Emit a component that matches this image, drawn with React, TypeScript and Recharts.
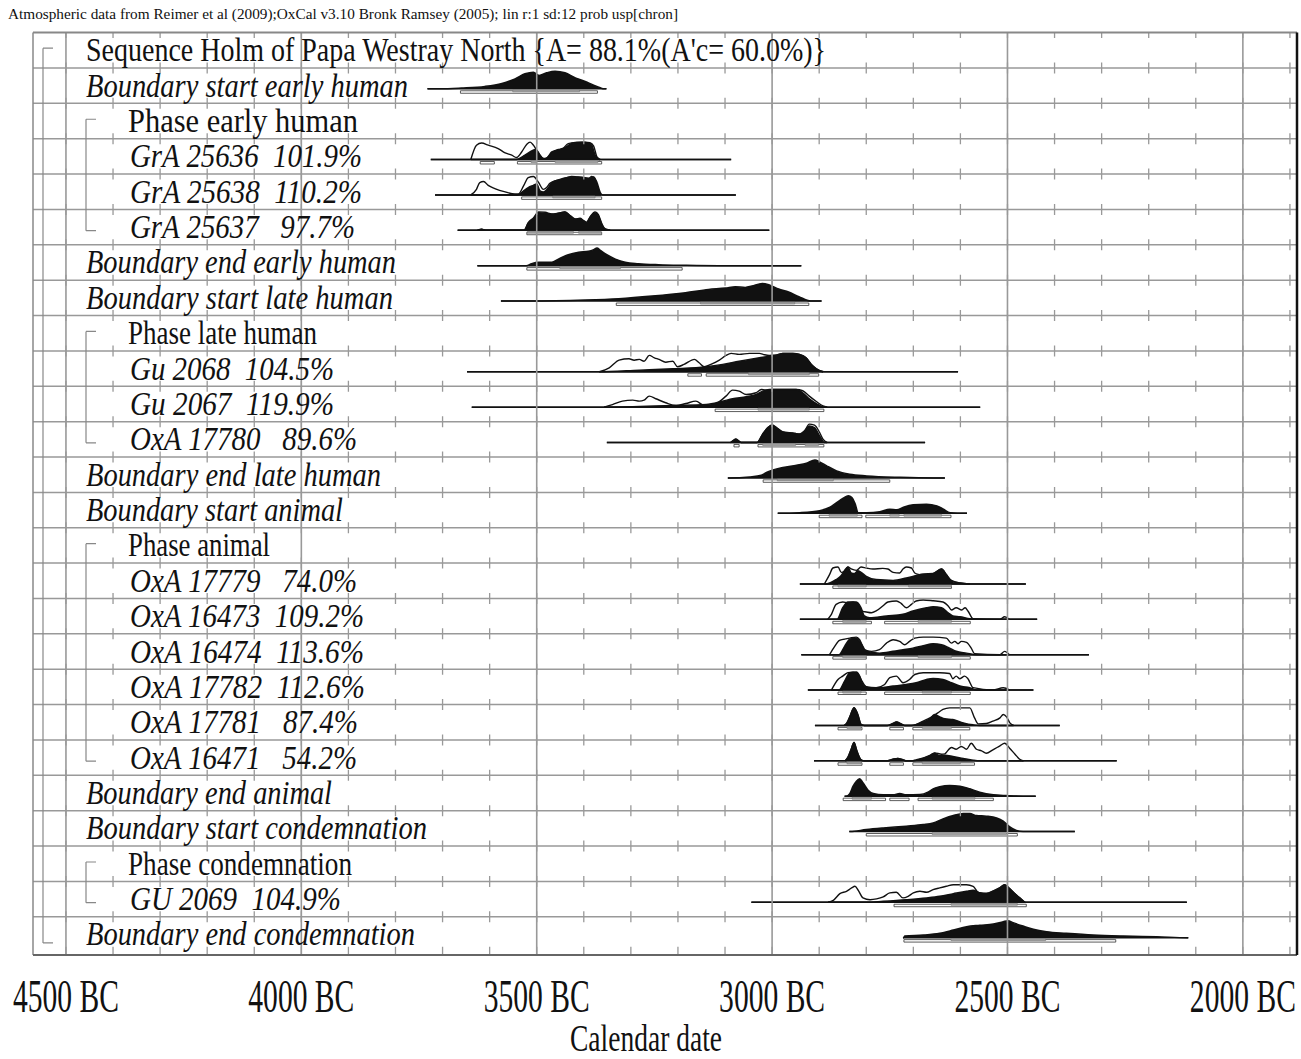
import React from 'react';
import { ComposedChart, Area, XAxis, YAxis, ReferenceLine, ReferenceArea } from 'recharts';

type Pt = [number, number];
type Range = [number, number];

// ---- row labels ----
const rowLabels = [
  "Sequence Holm of Papa Westray North {A= 88.1%(A'c= 60.0%)}",
  'Boundary start early human',
  'Phase early human',
  'GrA 25636  101.9%',
  'GrA 25638  110.2%',
  'GrA 25637   97.7%',
  'Boundary end early human',
  'Boundary start late human',
  'Phase late human',
  'Gu 2068  104.5%',
  'Gu 2067  119.9%',
  'OxA 17780   89.6%',
  'Boundary end late human',
  'Boundary start animal',
  'Phase animal',
  'OxA 17779   74.0%',
  'OxA 16473  109.2%',
  'OxA 16474  113.6%',
  'OxA 17782  112.6%',
  'OxA 17781   87.4%',
  'OxA 16471   54.2%',
  'Boundary end animal',
  'Boundary start condemnation',
  'Phase condemnation',
  'GU 2069  104.9%',
  'Boundary end condemnation',
];
const rowKinds = [
  'sequence', 'boundary', 'phase', 'date', 'date', 'date', 'boundary', 'boundary', 'phase',
  'date', 'date', 'date', 'boundary', 'boundary', 'phase', 'date', 'date', 'date', 'date',
  'date', 'date', 'boundary', 'boundary', 'phase', 'date', 'boundary',
];
const sequenceSpan: Range = [0, 25];
const phaseSpans: Range[] = [[2, 5], [8, 11], [14, 20], [23, 24]];

// axis ticks (years BC)
const majorYears = [4500, 4000, 3500, 3000, 2500, 2000];
const minorYears = [
  4500, 4400, 4300, 4200, 4100, 4000, 3900, 3800, 3700, 3600, 3500, 3400, 3300, 3200,
  3100, 3000, 2900, 2800, 2700, 2600, 2500, 2400, 2300, 2200, 2100, 2000, 1900,
];

// ---- distributions: [year BC, relative density] ----
const bStartEarlySpan: Range = [3732, 3352];
const bStartEarlyPost: Pt[] = [[3705,0],[3660,4],[3610,12],[3574,27],[3546,50],[3525,75],[3507,83],[3495,67],[3479,80],[3461,88],[3440,80],[3418,55],[3397,37],[3379,18],[3365,5],[3357,0]];
const bStartEarly68: Range[] = [[3551, 3409]];
const bStartEarly95: Range[] = [[3662, 3371]];

const gra25636Span: Range = [3725, 3087];
const gra25636Prior: Pt[] = [[3640,0],[3628,72],[3617,83],[3603,72],[3582,55],[3567,33],[3553,22],[3543,10],[3532,38],[3521,77],[3514,87],[3507,72],[3500,47],[3489,10],[3482,3],[3472,22],[3461,43],[3447,50],[3433,80],[3418,86],[3397,87],[3387,84],[3379,67],[3372,13],[3365,0]];
const gra25636Post: Pt[] = [[3545,0],[3525,22],[3511,43],[3502,50],[3493,22],[3486,5],[3479,8],[3468,38],[3454,50],[3440,60],[3426,80],[3404,86],[3390,83],[3383,72],[3376,22],[3367,0]];
const gra2563668: Range[] = [[3512, 3500], [3461, 3370]];
const gra2563695: Range[] = [[3620, 3590], [3541, 3362]];

const gra25638Span: Range = [3716, 3077];
const gra25638Prior: Pt[] = [[3640,0],[3628,28],[3621,62],[3613,67],[3603,48],[3589,32],[3567,15],[3546,5],[3539,5],[3528,45],[3518,87],[3507,92],[3496,62],[3486,28],[3479,37],[3472,58],[3461,70],[3447,78],[3426,92],[3404,87],[3390,82],[3383,92],[3376,78],[3369,20],[3363,0]];
const gra25638Post: Pt[] = [[3541,0],[3528,20],[3518,37],[3507,48],[3500,55],[3493,20],[3486,15],[3475,37],[3468,62],[3454,75],[3433,87],[3411,90],[3394,85],[3387,82],[3379,90],[3372,62],[3365,12],[3360,0]];
const gra2563868: Range[] = [[3466, 3376]];
const gra2563895: Range[] = [[3532, 3362]];

const gra25637Span: Range = [3668, 3006];
const gra25637Prior: Pt[] = [[3626,0],[3617,5],[3608,0],[3527,0],[3518,38],[3507,62],[3496,92],[3482,90],[3468,82],[3454,86],[3440,92],[3429,74],[3418,57],[3408,60],[3401,50],[3394,40],[3387,66],[3376,92],[3369,78],[3362,35],[3355,8],[3344,0]];
const gra25637Post: Pt[] = [[3626,0],[3617,5],[3608,0],[3527,0],[3518,35],[3507,58],[3496,88],[3482,85],[3468,80],[3454,85],[3440,92],[3429,72],[3418,55],[3408,58],[3401,47],[3394,38],[3387,63],[3376,88],[3369,72],[3362,30],[3355,5],[3348,0]];
const gra2563768: Range[] = [[3520, 3422], [3411, 3363]];
const gra2563795: Range[] = [[3521, 3362]];

const bEndEarlySpan: Range = [3626, 2938];
const bEndEarlyPost: Pt[] = [[3522,0],[3511,10],[3496,17],[3468,17],[3454,33],[3433,55],[3411,67],[3390,72],[3379,80],[3372,88],[3365,77],[3351,55],[3333,33],[3312,17],[3284,10],[3241,5],[3184,2],[3113,0]];
const bEndEarly68: Range[] = [[3451, 3322]];
const bEndEarly95: Range[] = [[3521, 3191]];

const bStartLateSpan: Range = [3576, 2895];
const bStartLatePost: Pt[] = [[3518,0],[3397,5],[3326,12],[3255,25],[3184,42],[3135,58],[3099,65],[3078,72],[3057,68],[3043,75],[3021,88],[3007,82],[2986,60],[2965,45],[2943,22],[2918,0]];
const bStartLate68: Range[] = [[3152, 2952]];
const bStartLate95: Range[] = [[3331, 2922]];

const gu2068Span: Range = [3648, 2605];
const gu2068Prior: Pt[] = [[3367,0],[3346,20],[3325,58],[3304,65],[3293,58],[3282,62],[3272,53],[3261,82],[3250,70],[3240,62],[3226,48],[3211,53],[3201,25],[3187,37],[3165,62],[3155,45],[3144,25],[3130,37],[3112,58],[3098,82],[3087,92],[3070,87],[3048,92],[3027,92],[3016,85],[3006,82],[2991,84],[2977,92],[2956,92],[2942,87],[2928,70],[2917,37],[2906,15],[2892,0]];
const gu2068Post: Pt[] = [[3370,0],[3282,8],[3211,15],[3140,25],[3105,37],[3070,53],[3048,62],[3027,70],[3006,78],[2991,82],[2977,92],[2956,92],[2942,87],[2928,70],[2917,37],[2906,15],[2890,0]];
const gu206868: Range[] = [[3050, 2921]];
const gu206895: Range[] = [[3179, 3150], [3140, 2901]];

const gu2067Span: Range = [3638, 2558];
const gu2067Prior: Pt[] = [[3357,0],[3339,13],[3318,30],[3296,35],[3282,30],[3272,35],[3261,55],[3247,42],[3226,22],[3204,8],[3183,18],[3162,30],[3144,8],[3119,18],[3098,55],[3084,85],[3070,80],[3055,63],[3034,72],[3023,88],[3009,85],[2999,88],[2977,88],[2949,88],[2935,82],[2921,55],[2906,28],[2892,6],[2883,0]];
const gu2067Post: Pt[] = [[3353,0],[3211,8],[3140,13],[3105,30],[3084,42],[3055,52],[3034,63],[3020,80],[3006,88],[2949,88],[2935,72],[2921,42],[2906,18],[2890,0]];
const gu206768: Range[] = [[3030, 2921]];
const gu206795: Range[] = [[3121, 2890]];

const oxa17780Span: Range = [3351, 2675];
const oxa17780Prior: Pt[] = [[3088,0],[3077,17],[3066,0],[3032,0],[3020,42],[3009,75],[3000,88],[2991,75],[2977,53],[2956,47],[2942,42],[2931,58],[2921,92],[2910,87],[2899,50],[2892,17],[2883,0]];
const oxa17780Post: Pt[] = [[3088,0],[3077,17],[3066,0],[3032,0],[3020,42],[3009,75],[3000,88],[2991,75],[2977,53],[2956,47],[2942,42],[2931,58],[2921,83],[2910,75],[2899,33],[2889,0]];
const oxa1778068: Range[] = [[3020, 2950], [2930, 2901]];
const oxa1778095: Range[] = [[3081, 3070], [3030, 2890]];

const bEndLateSpan: Range = [3094, 2633];
const bEndLatePost: Pt[] = [[3090,0],[3048,5],[3023,13],[3012,27],[2998,40],[2977,52],[2948,63],[2927,73],[2909,90],[2899,80],[2884,60],[2863,35],[2835,18],[2799,10],[2728,3],[2657,0]];
const bEndLate68: Range[] = [[2989, 2870]];
const bEndLate95: Range[] = [[3019, 2750]];

const bStartAnimalSpan: Range = [2988, 2586];
const bStartAnimalPost: Pt[] = [[2985,0],[2941,3],[2899,13],[2877,30],[2863,53],[2849,75],[2838,87],[2831,80],[2824,50],[2817,3],[2799,3],[2771,8],[2750,20],[2735,17],[2721,30],[2700,42],[2672,45],[2650,37],[2636,20],[2622,3],[2590,0]];
const bStartAnimal68: Range[] = [[2879, 2819], [2750, 2730], [2720, 2640]];
const bStartAnimal95: Range[] = [[2900, 2809], [2801, 2620]];

const oxa17779Span: Range = [2941, 2461];
const oxa17779Prior: Pt[] = [[2889,0],[2878,47],[2871,80],[2860,85],[2853,58],[2846,63],[2839,85],[2832,75],[2821,68],[2811,85],[2800,80],[2786,75],[2765,78],[2754,75],[2743,58],[2729,55],[2722,75],[2715,85],[2704,80],[2697,55],[2687,47],[2672,42],[2658,52],[2640,75],[2630,47],[2619,18],[2601,5],[2580,0]];
const oxa17779Post: Pt[] = [[2885,0],[2864,22],[2853,42],[2846,68],[2839,85],[2832,55],[2825,52],[2818,66],[2811,58],[2800,38],[2779,22],[2743,18],[2715,30],[2694,42],[2679,50],[2658,52],[2640,75],[2630,47],[2619,13],[2601,5],[2578,0]];
const oxa1777968: Range[] = [[2860, 2800], [2710, 2619]];
const oxa1777995: Range[] = [[2871, 2619]];

const oxa16473Span: Range = [2941, 2437];
const oxa16473Prior: Pt[] = [[2882,0],[2874,25],[2864,75],[2850,87],[2839,83],[2828,87],[2818,75],[2811,42],[2800,37],[2789,33],[2779,42],[2765,67],[2754,87],[2736,92],[2726,80],[2715,58],[2704,75],[2694,92],[2679,97],[2658,93],[2637,87],[2626,67],[2619,47],[2609,58],[2597,47],[2590,58],[2584,42],[2573,3],[2516,0],[2506,13],[2496,0]];
const oxa16473Post: Pt[] = [[2862,0],[2850,58],[2839,87],[2821,87],[2811,58],[2804,17],[2793,8],[2757,17],[2722,25],[2701,42],[2672,58],[2658,63],[2640,58],[2626,33],[2616,17],[2601,13],[2580,3],[2566,0]];
const oxa1647368: Range[] = [[2850, 2800], [2690, 2619]];
const oxa1647395: Range[] = [[2871, 2789], [2761, 2579]];

const oxa16474Span: Range = [2938, 2327];
const oxa16474Prior: Pt[] = [[2878,0],[2867,42],[2857,72],[2846,78],[2835,83],[2821,88],[2814,75],[2804,25],[2789,17],[2772,25],[2757,58],[2743,75],[2729,67],[2718,50],[2708,67],[2697,83],[2679,88],[2658,88],[2630,83],[2619,58],[2612,67],[2605,55],[2598,67],[2587,62],[2577,33],[2570,5],[2516,0],[2506,17],[2496,0]];
const oxa16474Post: Pt[] = [[2858,0],[2846,42],[2835,78],[2821,83],[2811,58],[2800,17],[2772,8],[2743,17],[2722,25],[2701,33],[2679,45],[2658,55],[2640,50],[2623,33],[2609,17],[2587,8],[2566,0]];
const oxa1647468: Range[] = [[2850, 2800], [2690, 2619]];
const oxa1647495: Range[] = [[2871, 2800], [2761, 2579]];

const oxa17782Span: Range = [2924, 2445];
const oxa17782Prior: Pt[] = [[2874,0],[2860,53],[2850,70],[2839,87],[2828,90],[2818,83],[2811,53],[2800,17],[2779,12],[2761,28],[2750,62],[2736,70],[2722,37],[2708,53],[2697,78],[2679,87],[2644,87],[2623,83],[2616,57],[2609,70],[2601,57],[2591,70],[2584,57],[2573,12],[2531,0],[2509,12],[2495,0]];
const oxa17782Post: Pt[] = [[2858,0],[2846,45],[2835,87],[2821,90],[2814,70],[2807,28],[2796,12],[2772,12],[2743,20],[2715,28],[2694,37],[2672,53],[2658,58],[2637,53],[2619,37],[2601,20],[2580,12],[2566,0]];
const oxa1778268: Range[] = [[2850, 2811], [2681, 2619]];
const oxa1778295: Range[] = [[2860, 2800], [2761, 2579]];

const oxa17781Span: Range = [2909, 2389];
const oxa17781Prior: Pt[] = [[2847,0],[2841,13],[2835,43],[2826,88],[2818,55],[2811,5],[2804,0],[2755,0],[2743,10],[2736,17],[2726,8],[2718,0],[2704,0],[2679,22],[2669,33],[2658,47],[2648,63],[2637,80],[2623,88],[2601,88],[2580,88],[2570,38],[2562,8],[2545,10],[2531,22],[2516,38],[2509,55],[2502,43],[2495,13],[2487,0]];
const oxa17781Post: Pt[] = [[2847,0],[2841,13],[2835,43],[2826,88],[2818,55],[2811,5],[2804,0],[2755,0],[2743,10],[2736,17],[2726,8],[2718,0],[2704,0],[2679,17],[2665,33],[2655,55],[2644,43],[2633,33],[2616,30],[2594,13],[2573,3],[2559,0]];
const oxa1778168: Range[] = [[2841, 2811], [2681, 2619]];
const oxa1778195: Range[] = [[2860, 2809], [2750, 2721], [2701, 2580]];

const oxa16471Span: Range = [2911, 2268];
const oxa16471Prior: Pt[] = [[2845,0],[2839,17],[2832,58],[2826,92],[2820,50],[2811,5],[2804,0],[2755,0],[2743,8],[2733,12],[2722,5],[2715,0],[2704,0],[2694,5],[2665,27],[2655,40],[2640,33],[2633,35],[2630,42],[2619,67],[2609,58],[2598,72],[2587,58],[2577,88],[2566,58],[2555,50],[2545,38],[2531,55],[2516,75],[2506,88],[2495,62],[2484,33],[2474,8],[2466,0]];
const oxa16471Post: Pt[] = [[2845,0],[2839,17],[2832,58],[2826,92],[2820,50],[2811,5],[2804,0],[2755,0],[2743,8],[2733,12],[2722,5],[2715,0],[2704,0],[2679,12],[2665,25],[2655,38],[2644,25],[2633,28],[2616,22],[2594,12],[2573,3],[2559,0]];
const oxa1647168: Range[] = [[2841, 2811], [2681, 2600]];
const oxa1647195: Range[] = [[2860, 2809], [2750, 2721], [2701, 2570]];

const bEndAnimalSpan: Range = [2846, 2440];
const bEndAnimalPost: Pt[] = [[2843,0],[2835,13],[2828,50],[2821,75],[2814,87],[2807,67],[2796,30],[2785,13],[2764,7],[2743,7],[2729,13],[2715,7],[2686,8],[2669,20],[2658,37],[2644,47],[2623,53],[2601,50],[2580,37],[2559,20],[2530,7],[2502,3],[2467,0]];
const bEndAnimal68: Range[] = [[2830, 2789], [2660, 2569]];
const bEndAnimal95: Range[] = [[2849, 2759], [2750, 2709], [2690, 2530]];

const bStartCondSpan: Range = [2836, 2357];
const bStartCondPost: Pt[] = [[2834,0],[2800,10],[2764,18],[2715,27],[2679,35],[2658,43],[2637,63],[2615,80],[2594,90],[2580,90],[2566,80],[2545,77],[2523,68],[2509,52],[2495,23],[2481,5],[2467,0]];
const bStartCond68: Range[] = [[2660, 2502]];
const bStartCond95: Range[] = [[2800, 2479]];

const gu2069Span: Range = [3044, 2119];
const gu2069Prior: Pt[] = [[2881,0],[2870,10],[2856,43],[2842,55],[2831,72],[2824,80],[2817,60],[2807,22],[2792,13],[2778,17],[2764,27],[2750,47],[2736,50],[2722,22],[2711,30],[2700,47],[2686,55],[2672,50],[2658,63],[2644,72],[2630,80],[2615,88],[2587,88],[2573,80],[2562,50],[2559,48],[2545,45],[2530,57],[2516,73],[2506,88],[2495,67],[2484,43],[2474,22],[2463,0]];
const gu2069Post: Pt[] = [[2800,0],[2764,5],[2715,13],[2672,22],[2644,30],[2615,43],[2587,55],[2573,60],[2559,47],[2545,43],[2530,55],[2516,72],[2506,88],[2495,67],[2484,43],[2474,22],[2461,0]];
const gu206968: Range[] = [[2620, 2479]];
const gu206995: Range[] = [[2741, 2460]];

const bEndCondSpan: Range = [2722, 2116];
const bEndCondPost: Pt[] = [[2721,0],[2718,8],[2679,13],[2644,22],[2615,38],[2587,55],[2559,62],[2530,68],[2509,80],[2499,85],[2488,75],[2467,58],[2445,42],[2417,30],[2375,22],[2318,13],[2254,8],[2183,5],[2118,0]];
const bEndCond68: Range[] = [[2620, 2419]];
const bEndCond95: Range[] = [[2720, 2270]];

interface Dist { row: number; span: Range; post: Pt[]; prior?: Pt[]; r68: Range[]; r95: Range[] }
const dists: Dist[] = [
  { row: 1, span: bStartEarlySpan, post: bStartEarlyPost, r68: bStartEarly68, r95: bStartEarly95 },
  { row: 3, span: gra25636Span, post: gra25636Post, prior: gra25636Prior, r68: gra2563668, r95: gra2563695 },
  { row: 4, span: gra25638Span, post: gra25638Post, prior: gra25638Prior, r68: gra2563868, r95: gra2563895 },
  { row: 5, span: gra25637Span, post: gra25637Post, prior: gra25637Prior, r68: gra2563768, r95: gra2563795 },
  { row: 6, span: bEndEarlySpan, post: bEndEarlyPost, r68: bEndEarly68, r95: bEndEarly95 },
  { row: 7, span: bStartLateSpan, post: bStartLatePost, r68: bStartLate68, r95: bStartLate95 },
  { row: 9, span: gu2068Span, post: gu2068Post, prior: gu2068Prior, r68: gu206868, r95: gu206895 },
  { row: 10, span: gu2067Span, post: gu2067Post, prior: gu2067Prior, r68: gu206768, r95: gu206795 },
  { row: 11, span: oxa17780Span, post: oxa17780Post, prior: oxa17780Prior, r68: oxa1778068, r95: oxa1778095 },
  { row: 12, span: bEndLateSpan, post: bEndLatePost, r68: bEndLate68, r95: bEndLate95 },
  { row: 13, span: bStartAnimalSpan, post: bStartAnimalPost, r68: bStartAnimal68, r95: bStartAnimal95 },
  { row: 15, span: oxa17779Span, post: oxa17779Post, prior: oxa17779Prior, r68: oxa1777968, r95: oxa1777995 },
  { row: 16, span: oxa16473Span, post: oxa16473Post, prior: oxa16473Prior, r68: oxa1647368, r95: oxa1647395 },
  { row: 17, span: oxa16474Span, post: oxa16474Post, prior: oxa16474Prior, r68: oxa1647468, r95: oxa1647495 },
  { row: 18, span: oxa17782Span, post: oxa17782Post, prior: oxa17782Prior, r68: oxa1778268, r95: oxa1778295 },
  { row: 19, span: oxa17781Span, post: oxa17781Post, prior: oxa17781Prior, r68: oxa1778168, r95: oxa1778195 },
  { row: 20, span: oxa16471Span, post: oxa16471Post, prior: oxa16471Prior, r68: oxa1647168, r95: oxa1647195 },
  { row: 21, span: bEndAnimalSpan, post: bEndAnimalPost, r68: bEndAnimal68, r95: bEndAnimal95 },
  { row: 22, span: bStartCondSpan, post: bStartCondPost, r68: bStartCond68, r95: bStartCond95 },
  { row: 24, span: gu2069Span, post: gu2069Post, prior: gu2069Prior, r68: gu206968, r95: gu206995 },
  { row: 25, span: bEndCondSpan, post: bEndCondPost, r68: bEndCond68, r95: bEndCond95 },
];

// ---- layout ----
const W = 1301;
const H = 1059;
const PLOT_LEFT = 33;
const PLOT_RIGHT = 1297;
const PLOT_TOP = 32.6;
const PLOT_BOTTOM = 955;
const Y_SPAN = 26.08;
const ROW_PX = (PLOT_BOTTOM - PLOT_TOP) / Y_SPAN;
const X_MIN = -4570;
const X_MAX = -1885;
const BASE_OFF = 0.59;
const DENS = 20 / ROW_PX / 100; // density 100 -> 20px
const GRID = '#999';
const FONT = '"Liberation Serif", "Times New Roman", serif';

const labelWidths = [740, 322, 230, 232, 232, 225, 310, 307, 189, 204, 204, 227, 295, 257, 142, 227, 234, 234, 235, 228, 227, 246, 341, 224, 211, 329];
const labelIndent: Record<string, number> = { sequence: 53, boundary: 53, phase: 95, date: 97 };

const rowTicks = rowLabels.map((_, i) => i + 0.5);

const toArea = (pts: Pt[], base: number, span?: Range) => {
  const list: Pt[] = span ? [[span[0], 0], ...pts, [span[1], 0]] : pts;
  return list.map(([bc, v]) => ({ t: -bc, v: [base, base - v * DENS] }));
};

const bracket = (r: number, span: Range, x: number, top: number, startOff: number, endOff: number, key: string) => {
  if (r < span[0] || r > span[1]) return null;
  const y1 = r === span[0] ? top + startOff * ROW_PX : top;
  const y2 = r === span[1] ? top + endOff * ROW_PX : top + ROW_PX;
  let d = `M${x},${y1}L${x},${y2}`;
  if (r === span[0]) d += `M${x},${y1}L${x + 10},${y1}`;
  if (r === span[1]) d += `M${x},${y2}L${x + 10},${y2}`;
  return <path key={key} d={d} stroke="#888" strokeWidth={1.2} fill="none" />;
};

const RowTick = (props: any) => {
  const { y, payload } = props;
  const r = Math.floor(payload.value);
  const kind = rowKinds[r];
  const top = y - ROW_PX / 2;
  const italic = kind === 'boundary' || kind === 'date';
  const phase = phaseSpans.find((s) => r >= s[0] && r <= s[1]);
  return (
    <g>
      {bracket(r, sequenceSpan, PLOT_LEFT + 10, top, 0.44, 0.74, 's')}
      {phase && bracket(r, phase, PLOT_LEFT + 53, top, 0.45, 0.6, 'p')}
      <text
        x={PLOT_LEFT + labelIndent[kind]}
        y={top + ROW_PX * 0.81}
        fontFamily={FONT}
        fontSize={34}
        fontStyle={italic ? 'italic' : 'normal'}
        fill="#111"
        textLength={labelWidths[r]}
        lengthAdjust="spacingAndGlyphs"
        style={{ whiteSpace: 'pre' }}
      >
        {rowLabels[r]}
      </text>
    </g>
  );
};

const YearTick = (props: any) => {
  const { x, y, payload } = props;
  return (
    <text x={x} y={y + 57} textAnchor="middle" fontFamily={FONT} fontSize={46} fill="#111"
      textLength={106} lengthAdjust="spacingAndGlyphs">
      {`${-payload.value} BC`}
    </text>
  );
};

const AxisTitle = (props: any) => {
  const vb = props.viewBox || { x: PLOT_LEFT, y: PLOT_BOTTOM, width: PLOT_RIGHT - PLOT_LEFT, height: H - PLOT_BOTTOM };
  return (
    <text x={vb.x + vb.width / 2 - 19} y={vb.y + 96} textAnchor="middle" fontFamily={FONT} fontSize={38}
      fill="#111" textLength={152} lengthAdjust="spacingAndGlyphs">
      Calendar date
    </text>
  );
};

export default function App() {
  const dash = `5.5 ${(ROW_PX - 11).toFixed(3)} 5.5 0`;
  return (
    <div style={{ position: 'absolute', left: 0, top: 0, width: W, height: H, background: '#fff' }}>
      <ComposedChart
        width={W}
        height={H}
        margin={{ top: PLOT_TOP, right: W - PLOT_RIGHT, bottom: 0, left: PLOT_LEFT - 1 }}
      >
        <XAxis
          dataKey="t"
          type="number"
          domain={[X_MIN, X_MAX]}
          allowDataOverflow
          ticks={majorYears.map((y) => -y)}
          interval={0}
          tick={<YearTick />}
          tickLine={false}
          axisLine={false}
          tickSize={0}
          tickMargin={0}
          height={H - PLOT_BOTTOM}
          label={<AxisTitle />}
        />
        <YAxis
          type="number"
          domain={[0, Y_SPAN]}
          reversed
          allowDataOverflow
          ticks={rowTicks}
          interval={0}
          tick={<RowTick />}
          tickLine={false}
          axisLine={false}
          tickSize={0}
          tickMargin={0}
          width={1}
        />

        {rowLabels.slice(1).map((_, i) => (
          <ReferenceLine key={`h${i}`} y={i + 1} stroke={GRID} strokeWidth={1.5} ifOverflow="visible" />
        ))}
        {minorYears.map((yr) => (
          <ReferenceLine
            key={`m${yr}`}
            segment={[{ x: -yr, y: 0 }, { x: -yr, y: Y_SPAN }]}
            stroke={GRID}
            strokeWidth={1.3}
            strokeDasharray={dash}
            ifOverflow="visible"
          />
        ))}
        {majorYears.map((yr) => (
          <ReferenceLine key={`M${yr}`} x={-yr} stroke={GRID} strokeWidth={1.6} ifOverflow="visible" />
        ))}
        <ReferenceLine y={0} stroke="#888" strokeWidth={2} ifOverflow="visible" />
        <ReferenceLine x={X_MIN} stroke="#888" strokeWidth={1.5} ifOverflow="visible" />
        <ReferenceLine y={Y_SPAN} stroke="#666" strokeWidth={2} ifOverflow="visible" />
        <ReferenceLine x={X_MAX} stroke="#111" strokeWidth={2.5} ifOverflow="visible" />

        {dists.map((d) => {
          const base = d.row + BASE_OFF;
          return d.prior ? (
            <Area
              key={`pr${d.row}`}
              data={toArea(d.prior, base)}
              dataKey="v"
              type="monotoneX"
              stroke="#111"
              strokeWidth={1.4}
              fill="#fff"
              fillOpacity={1}
              dot={false}
              activeDot={false}
              isAnimationActive={false}
            />
          ) : null;
        })}
        {dists.map((d) => {
          const base = d.row + BASE_OFF;
          return (
            <Area
              key={`po${d.row}`}
              data={toArea(d.post, base, d.span)}
              dataKey="v"
              type="monotoneX"
              stroke="#111"
              strokeWidth={1.5}
              fill="#111"
              fillOpacity={1}
              dot={false}
              activeDot={false}
              isAnimationActive={false}
            />
          );
        })}
        {dists.flatMap((d) => {
          const base = d.row + BASE_OFF;
          return d.r95.map((r, i) => (
            <ReferenceArea
              key={`r95-${d.row}-${i}`}
              x1={-r[0]}
              x2={-r[1]}
              y1={base + 0.055}
              y2={base + 0.125}
              fill="#fff"
              fillOpacity={1}
              stroke="#333"
              strokeWidth={0.8}
              ifOverflow="visible"
            />
          ));
        })}
        {dists.flatMap((d) => {
          const base = d.row + BASE_OFF;
          return d.r68.map((r, i) => (
            <ReferenceArea
              key={`r68-${d.row}-${i}`}
              x1={-r[0]}
              x2={-r[1]}
              y1={base + 0.03}
              y2={base + 0.085}
              fill="#a0a0a0"
              fillOpacity={1}
              stroke="#777"
              strokeWidth={0.6}
              ifOverflow="visible"
            />
          ));
        })}
      </ComposedChart>
      <svg width={W} height={30} style={{ position: 'absolute', left: 0, top: 0 }}>
        <text x={8} y={19} fontFamily={FONT} fontSize={15} fill="#111" textLength={670} lengthAdjust="spacingAndGlyphs">
          Atmospheric data from Reimer et al (2009);OxCal v3.10 Bronk Ramsey (2005); lin r:1 sd:12 prob usp[chron]
        </text>
      </svg>
    </div>
  );
}
